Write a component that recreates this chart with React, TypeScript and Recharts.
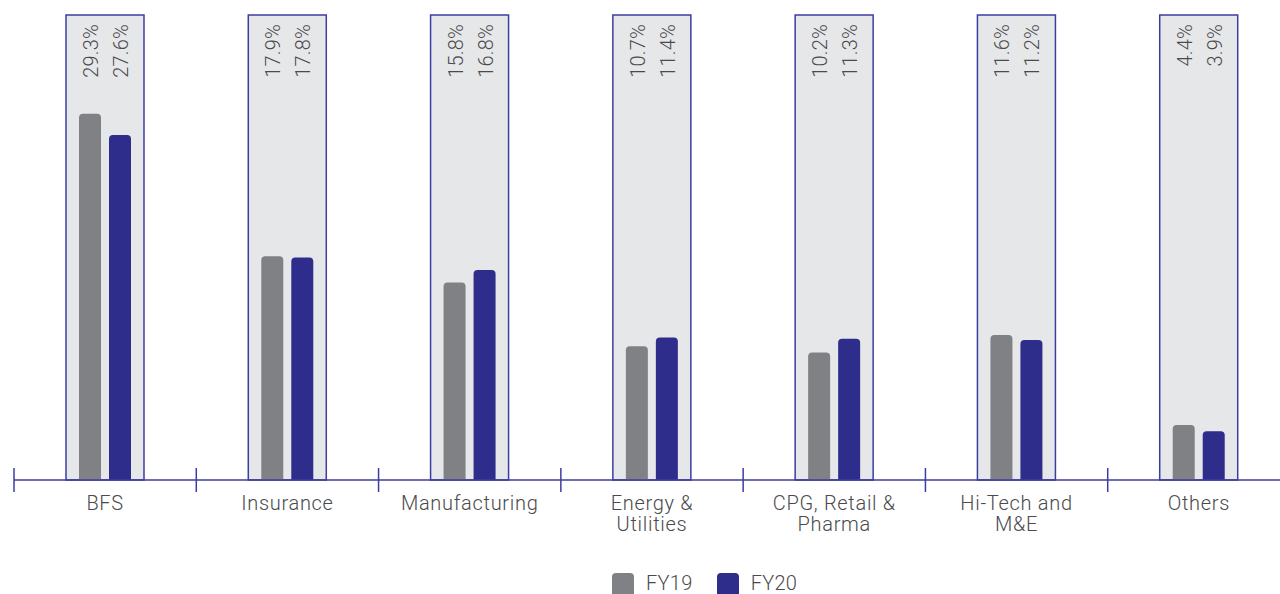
import * as React from "react";
import { Bar, BarChart, LabelList, XAxis, YAxis } from "recharts";

// Revenue share by vertical, FY19 vs FY20 (%)
const categories = ["BFS", "Insurance", "Manufacturing", "Energy & Utilities", "CPG, Retail & Pharma", "Hi-Tech and M&E", "Others"];
const categoryLines = [["BFS"], ["Insurance"], ["Manufacturing"], ["Energy &", "Utilities"], ["CPG, Retail &", "Pharma"], ["Hi-Tech and", "M&E"], ["Others"]];
const fy19 = [29.3, 17.9, 15.8, 10.7, 10.2, 11.6, 4.4];
const fy20 = [27.6, 17.8, 16.8, 11.4, 11.3, 11.2, 3.9];
const seriesNames = ["FY19", "FY20"];

const Y_MAX = 37.2;

const GREY = "#808184";
const NAVY = "#2e2d8b";
const FRAME_FILL = "#e6e7e9";
const LINE_BLUE = "#3d3da0";
const TEXT = "#4a4a4c";
const FONT = "Roboto, 'Open Sans', sans-serif";

const data = categories.map((name, i) => ({
  name,
  fy19: fy19[i],
  fy20: fy20[i],
  frame: Y_MAX,
}));

// Category tick: label lines under the band centre plus a boundary mark on the left edge.
function CategoryTick(props: any) {
  const { x, y, payload } = props;
  const half = payload?.offset ?? 91.14;
  const lines = categoryLines[payload.index] ?? [payload.value];
  return (
    <g>
      <line x1={x - half} x2={x - half} y1={y - 12} y2={y + 12} stroke={LINE_BLUE} strokeWidth={1.5} />
      {lines.map((l: string, k: number) => (
        <text
          key={k}
          x={x}
          y={y + 30 + k * 21}
          textAnchor="middle"
          fill={TEXT}
          fontFamily={FONT}
          fontWeight={300}
          fontSize={20}
          letterSpacing={0.7}
        >
          {l}
        </text>
      ))}
    </g>
  );
}

// Rotated value label pinned near the top of the frame.
function TopValue(props: any) {
  const { x, width, value } = props;
  const cx = x + width / 2 + 8;
  const ty = 24;
  return (
    <text
      x={cx}
      y={ty}
      transform={`rotate(-90, ${cx}, ${ty})`}
      textAnchor="end"
      fill={TEXT}
      fontFamily={FONT}
      fontWeight={300}
      fontSize={20}
      letterSpacing={0.2}
    >
      {`${value.toFixed(1)}%`}
    </text>
  );
}

function LegendSwatch({ color, label }: { color: string; label: string }) {
  return (
    <div style={{ display: "flex", alignItems: "flex-start", marginRight: 24 }}>
      <div style={{ width: 22, height: 22, background: color, borderRadius: "4px 4px 0 0" }} />
      <span
        style={{
          marginLeft: 12,
          fontFamily: FONT,
          fontWeight: 300,
          fontSize: 20,
          color: TEXT,
          lineHeight: "20px",
          letterSpacing: 0.3,
        }}
      >
        {label}
      </span>
    </div>
  );
}

export default function App() {
  return (
    <div
      style={{
        position: "absolute",
        left: 0,
        top: 0,
        width: 1280,
        height: 594,
        overflow: "hidden",
        background: "#ffffff",
      }}
    >
      <BarChart
        width={1304}
        height={620}
        data={data}
        margin={{ top: 15, right: 14, left: 14, bottom: 80 }}
        barGap={8}
      >
        <YAxis hide domain={[0, Y_MAX]} />
        <XAxis xAxisId="frame" dataKey="name" hide />
        <XAxis
          dataKey="name"
          height={60}
          interval={0}
          axisLine={{ stroke: LINE_BLUE, strokeWidth: 1.5 }}
          tickLine={false}
          tickSize={0}
          tickMargin={0}
          tick={<CategoryTick />}
        />
        <Bar
          xAxisId="frame"
          dataKey="frame"
          barSize={78}
          fill={FRAME_FILL}
          stroke={LINE_BLUE}
          strokeWidth={1.5}
          isAnimationActive={false}
        />
        <Bar dataKey="fy19" name={seriesNames[0]} barSize={22} fill={GREY} radius={[4, 4, 0, 0]} isAnimationActive={false}>
          <LabelList dataKey="fy19" content={<TopValue />} />
        </Bar>
        <Bar dataKey="fy20" name={seriesNames[1]} barSize={22} fill={NAVY} radius={[4, 4, 0, 0]} isAnimationActive={false}>
          <LabelList dataKey="fy20" content={<TopValue />} />
        </Bar>
      </BarChart>
      <div style={{ position: "absolute", left: 612, top: 573, display: "flex" }}>
        <LegendSwatch color={GREY} label={seriesNames[0]} />
        <LegendSwatch color={NAVY} label={seriesNames[1]} />
      </div>
    </div>
  );
}
